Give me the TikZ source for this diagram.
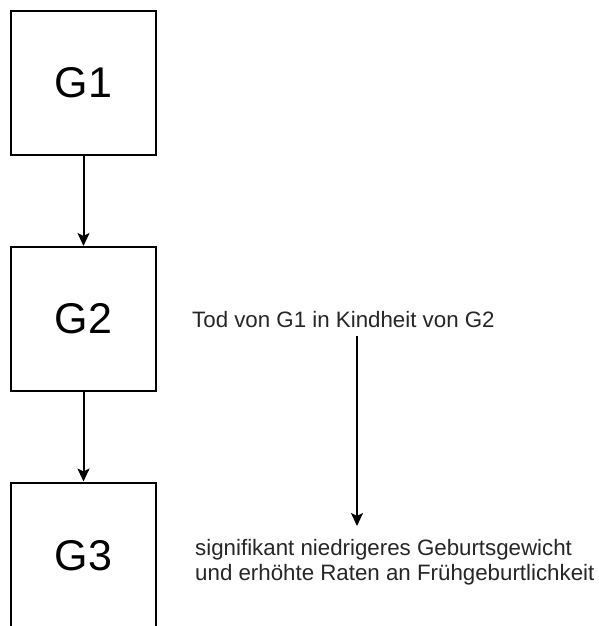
\documentclass[tikz,border=0pt]{standalone}
\usepackage{fontspec}
\setmainfont{Liberation Sans}
\usetikzlibrary{arrows.meta}
\begin{document}
\begin{tikzpicture}[x=1pt,y=-1pt,
  gbox/.style={draw=black,line width=2pt,minimum width=145pt,minimum height=144pt,inner sep=0pt,font=\fontsize{43}{50}\selectfont},
  lbl/.style={inner sep=0pt,text=black!85,font=\fontsize{22.3}{24.5}\selectfont},
  conn/.style={line width=2pt,-{Stealth[length=13pt,width=12pt,inset=3pt]}}]
\clip (0,0) rectangle (599,626);
\useasboundingbox (0,0) rectangle (599,626);
\fill[white] (0,0) rectangle (599,626);
\node[gbox] (g1) at (83.5,83) {G1};
\node[gbox] (g2) at (83.5,319) {G2};
\node[gbox,minimum height=147pt] (g3) at (83.5,556) {G3};
\draw[conn] (g1) -- (g2);
\draw[conn] (g2) -- (g3);
\node[lbl,anchor=west] (tod) at (192,320) {Tod von G1 in Kindheit von G2};
\node[lbl,anchor=west,align=left] (sig) at (195,562) {signifikant niedrigeres Geburtsgewicht\\und erhöhte Raten an Frühgeburtlichkeit};
\coordinate (a1) at (357,336);
\coordinate (a2) at (357,526);
\draw[conn] (a1) -- (a2);
\end{tikzpicture}
\end{document}
